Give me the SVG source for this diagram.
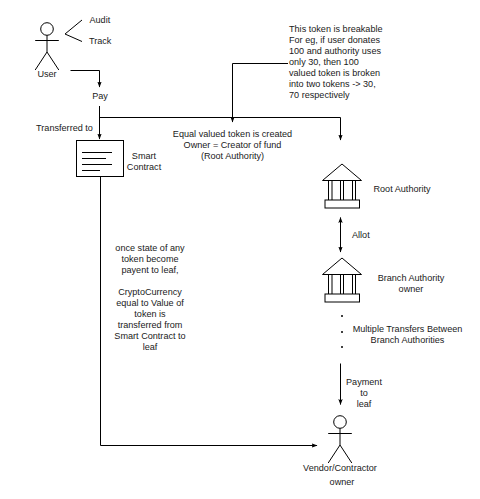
<svg xmlns="http://www.w3.org/2000/svg" width="480" height="499" viewBox="0 0 480 499">
<style>
text{font-family:"Liberation Sans",Arial,sans-serif;font-size:9.1px;fill:#1a1a1a}
.m{text-anchor:middle}
.s{fill:none;stroke:#000;stroke-width:1}
.c{fill:none;stroke:#000;stroke-width:1}
</style>
<defs>
<marker id="a" markerUnits="userSpaceOnUse" markerWidth="6" markerHeight="6" refX="5.5" refY="3" orient="auto-start-reverse" viewBox="0 0 6 6"><path d="M0 0.800L6 3L0 5.200L1.200 3Z" fill="#000"/></marker>
<g id="temple-shape"><path class="s" d="M-19.500 16.500L0 0L19.500 16.500Z"/><rect class="s" x="-17" y="36" width="34.500" height="8"/><path class="s" d="M-13.500 16.500V36M-10 16.500V36M-1.500 16.500V36M1.500 16.500V36M10.500 16.500V36M13.500 16.500V36"/></g>
<g id="actor-shape"><circle class="s" cx="0" cy="0" r="6.300"/><path class="s" d="M0 6.300V23M-11.800 11.500H11.800M0 23L-11.800 41M0 23L11.800 41"/></g>
</defs>
<rect width="480" height="499" fill="#fff"/>
<g id="connectors">
<path class="c" d="M70.500 70.500H99.500V87" marker-end="url(#a)"/>
<path class="c" d="M99.500 106V139" marker-end="url(#a)"/>
<path class="c" d="M99.500 117.500H340.500V140" marker-end="url(#a)"/>
<path class="c" d="M288 63.500H232.500V122" marker-end="url(#a)"/>
<path class="c" d="M100.500 176V445.500H317" marker-end="url(#a)"/>
<path class="c" d="M340.500 217.500V252" marker-start="url(#a)" marker-end="url(#a)"/>
<path class="c" d="M340.500 363.500V404.500" marker-end="url(#a)"/>
<path class="c" d="M82 20L65 34L82 41.500"/>
</g>
<g id="user"><use href="#actor-shape" x="47" y="29"/><text class="m" x="47" y="77">User</text></g>
<g id="audit"><text x="89.500" y="23">Audit</text></g>
<g id="track"><text x="89" y="44">Track</text></g>
<g id="pay"><text class="m" x="100" y="99">Pay</text></g>
<g id="transferred"><text class="m" x="64.500" y="131">Transferred to</text></g>
<g id="smart-contract">
<rect class="s" x="76.500" y="140.500" width="47" height="36"/>
<path class="s" d="M82 152.500H112M82 158.500H106M82 164.500H112M82 170.500H100"/>
<text class="m" x="144" y="159">Smart</text><text class="m" x="144" y="170">Contract</text>
</g>
<g id="note"><text x="289" y="32">This token is breakable</text><text x="289" y="43">For eg, if user donates</text><text x="289" y="54">100 and authority uses</text><text x="289" y="65">only 30, then 100</text><text x="289" y="76">valued token is broken</text><text x="289" y="87">into two tokens -&gt; 30,</text><text x="289" y="98">70 respectively</text></g>
<g id="equal-token"><text class="m" x="232.500" y="137">Equal valued token is created</text><text class="m" x="232.500" y="148">Owner = Creator of fund</text><text class="m" x="232.500" y="159">(Root Authority)</text></g>
<g id="root-authority"><use href="#temple-shape" x="342" y="164"/><text x="373.500" y="192">Root Authority</text></g>
<g id="allot"><text x="352" y="238">Allot</text></g>
<g id="branch-authority"><use href="#temple-shape" x="342" y="258"/><text class="m" x="411" y="281">Branch Authority</text><text class="m" x="411" y="292">owner</text></g>
<g id="dots"><circle cx="342" cy="316" r="1" fill="#000"/><circle cx="342" cy="332" r="1" fill="#000"/><circle cx="342" cy="347" r="1" fill="#000"/></g>
<g id="transfers"><text class="m" x="407.500" y="332">Multiple Transfers Between</text><text class="m" x="407.500" y="343">Branch Authorities</text></g>
<g id="payment"><text class="m" x="364" y="385">Payment</text><text class="m" x="364" y="396">to</text><text class="m" x="364" y="407">leaf</text></g>
<g id="vendor"><use href="#actor-shape" x="340" y="422"/><text class="m" x="340" y="471">Vendor/Contractor</text><text class="m" x="342" y="485">owner</text></g>
<g id="smart-note"><text class="m" x="150" y="251">once state of any</text><text class="m" x="150" y="262">token become</text><text class="m" x="150" y="273">payent to leaf,</text><text class="m" x="150" y="295">CryptoCurrency</text><text class="m" x="150" y="306">equal to Value of</text><text class="m" x="150" y="317">token is</text><text class="m" x="150" y="328">transferred from</text><text class="m" x="150" y="339">Smart Contract to</text><text class="m" x="150" y="350">leaf</text></g>
</svg>
